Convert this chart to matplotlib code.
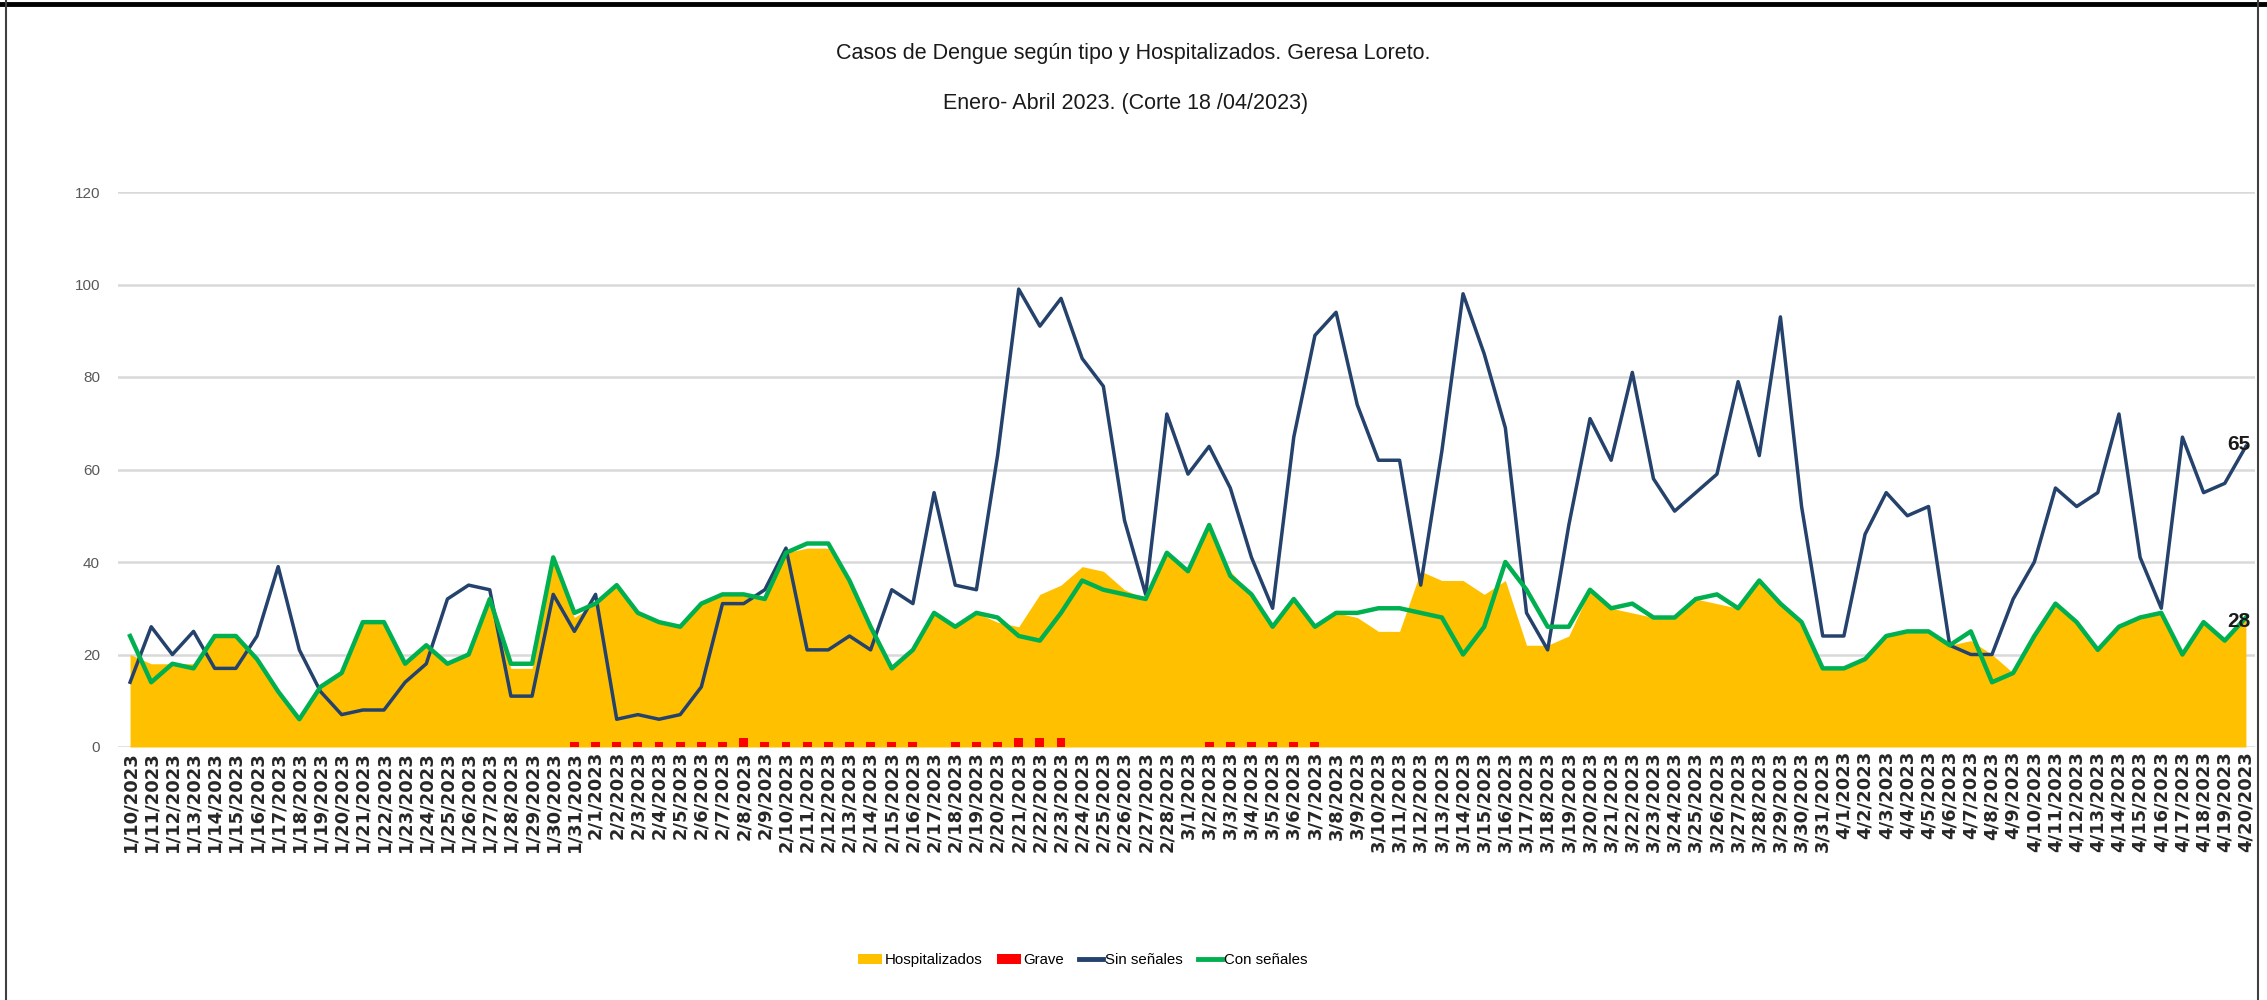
import matplotlib
matplotlib.use("Agg")
import matplotlib.pyplot as plt
from matplotlib.lines import Line2D
from matplotlib.patches import Patch
import numpy as np
import pandas as pd

# ---------------- data ----------------
fechas = pd.date_range("2023-01-10", "2023-04-20", freq="D")
etiquetas = [f"{d.month}/{d.day}/{d.year}" for d in fechas]

sin_senales = [14, 26, 20, 25, 17, 17, 24, 39, 21, 12,
               7, 8, 8, 14, 18, 32, 35, 34, 11, 11,
               33, 25, 33, 6, 7, 6, 7, 13, 31, 31,
               34, 43, 21, 21, 24, 21, 34, 31, 55, 35,
               34, 63, 99, 91, 97, 84, 78, 49, 33, 72,
               59, 65, 56, 41, 30, 67, 89, 94, 74, 62,
               62, 35, 64, 98, 85, 69, 29, 21, 48, 71,
               62, 81, 58, 51, 55, 59, 79, 63, 93, 52,
               24, 24, 46, 55, 50, 52, 22, 20, 20, 32,
               40, 56, 52, 55, 72, 41, 30, 67, 55, 57, 65]

con_senales = [24, 14, 18, 17, 24, 24, 19, 12, 6, 13,
               16, 27, 27, 18, 22, 18, 20, 32, 18, 18,
               41, 29, 31, 35, 29, 27, 26, 31, 33, 33,
               32, 42, 44, 44, 36, 26, 17, 21, 29, 26,
               29, 28, 24, 23, 29, 36, 34, 33, 32, 42,
               38, 48, 37, 33, 26, 32, 26, 29, 29, 30,
               30, 29, 28, 20, 26, 40, 34, 26, 26, 34,
               30, 31, 28, 28, 32, 33, 30, 36, 31, 27,
               17, 17, 19, 24, 25, 25, 22, 25, 14, 16,
               24, 31, 27, 21, 26, 28, 29, 20, 27, 23, 28]

hospitalizados = [20, 18, 18, 18, 24, 24, 19, 12, 6, 13,
                  16, 27, 27, 18, 22, 18, 20, 32, 17, 17,
                  40, 28, 31, 35, 29, 27, 26, 31, 33, 33,
                  32, 42, 43, 43, 36, 26, 17, 21, 29, 26,
                  29, 27, 26, 33, 35, 39, 38, 34, 32, 42,
                  38, 48, 38, 33, 26, 32, 26, 29, 28, 25,
                  25, 38, 36, 36, 33, 36, 22, 22, 24, 34,
                  30, 29, 28, 28, 32, 31, 30, 36, 31, 27,
                  17, 17, 19, 24, 25, 25, 22, 23, 20, 16,
                  24, 31, 27, 21, 26, 28, 29, 20, 27, 23, 28]

grave = [0, 0, 0, 0, 0, 0, 0, 0, 0, 0,
         0, 0, 0, 0, 0, 0, 0, 0, 0, 0,
         0, 1, 1, 1, 1, 1, 1, 1, 1, 2,
         1, 1, 1, 1, 1, 1, 1, 1, 0, 1,
         1, 1, 2, 2, 2, 0, 0, 0, 0, 0,
         0, 1, 1, 1, 1, 1, 1, 0, 0, 0,
         0, 0, 0, 0, 0, 0, 0, 0, 0, 0,
         0, 0, 0, 0, 0, 0, 0, 0, 0, 0,
         0, 0, 0, 0, 0, 0, 0, 0, 0, 0,
         0, 0, 0, 0, 0, 0, 0, 0, 0, 0, 0]

yticks = [0, 20, 40, 60, 80, 100, 120]

titulo1 = "Casos de Dengue según tipo y Hospitalizados. Geresa Loreto."
titulo2 = "Enero- Abril 2023. (Corte 18 /04/2023)"

# ---------------- style ----------------
C_HOSP = "#FFC000"
C_GRAVE = "#FF0000"
C_SIN = "#24426C"
C_CON = "#00B050"
NARROW = ["Liberation Sans", "DejaVu Sans"]

W, H = 2267, 1000
fig = plt.figure(figsize=(W / 100, H / 100), dpi=100)
ax = fig.add_axes([118 / W, 1 - 747 / H, (2255 - 118) / W, (747 - 192) / H])

x = np.arange(len(etiquetas))

ax.fill_between(x, 0, hospitalizados, color=C_HOSP, linewidth=0, zorder=2,
                label="Hospitalizados")
ax.bar(x, grave, width=0.42, color=C_GRAVE, zorder=3, label="Grave")
ax.plot(x, sin_senales, color=C_SIN, linewidth=2.5, zorder=4,
        solid_joinstyle="round", label="Sin señales")
ax.plot(x, con_senales, color=C_CON, linewidth=3.2, zorder=5,
        solid_joinstyle="round", label="Con señales")

ax.set_xlim(-0.57, len(x) - 1 + 0.43)
ax.set_ylim(0, 120)
ax.set_yticks(yticks)
ax.set_yticklabels([str(v) for v in yticks], fontsize=11, color="#595959",
                   family=NARROW)
ax.set_xticks(x)
ax.set_xticklabels(etiquetas, rotation=90, fontsize=13, fontweight="bold",
                   color="#262626", family="DejaVu Sans")
ax.tick_params(axis="both", length=0)
ax.tick_params(axis="x", pad=3)
ax.tick_params(axis="y", pad=13)
ax.grid(axis="y", color="#D9D9D9", linewidth=1.8, zorder=0)
ax.set_axisbelow(True)
for s in ax.spines.values():
    s.set_visible(False)

# data labels at the last point
ax.annotate(str(sin_senales[-1]), xy=(x[-1], sin_senales[-1]),
            xytext=(-5, 1), textcoords="offset points", ha="center",
            va="center", fontsize=15, fontweight="bold", color="#1a1a1a",
            family=NARROW, zorder=6)
ax.annotate(str(con_senales[-1]), xy=(x[-1], con_senales[-1]),
            xytext=(-5, -3), textcoords="offset points", ha="center",
            va="center", fontsize=15, fontweight="bold", color="#1a1a1a",
            family=NARROW, zorder=6)

# titles
fig.text(1133 / W, 1 - 53 / H, titulo1, ha="center", va="center",
         fontsize=15.5, color="#1a1a1a", family=NARROW)
fig.text(1126 / W, 1 - 104 / H, titulo2, ha="center", va="center",
         fontsize=15.5, color="#1a1a1a", family=NARROW)

# legend
handles = [Patch(facecolor=C_HOSP, edgecolor="none"),
           Patch(facecolor=C_GRAVE, edgecolor="none"),
           Line2D([0], [0], color=C_SIN, linewidth=3.5),
           Line2D([0], [0], color=C_CON, linewidth=3.5)]
labels = ["Hospitalizados", "Grave", "Sin señales", "Con señales"]
fig.legend(handles, labels, loc="center", bbox_to_anchor=(1083 / W, 1 - 960 / H),
           ncol=4, frameon=False, prop={"family": NARROW, "size": 10.8},
           handlelength=1.6, handletextpad=0.15, columnspacing=1.0)

# outer frame
fig.add_artist(Line2D([0, 1], [1 - 4 / H, 1 - 4 / H], transform=fig.transFigure,
                      color="black", linewidth=3.5))
fig.add_artist(Line2D([6 / W, 6 / W], [0, 1], transform=fig.transFigure,
                      color="#404040", linewidth=1.5))
fig.add_artist(Line2D([2258 / W, 2258 / W], [0, 1], transform=fig.transFigure,
                      color="#404040", linewidth=1.5))

fig.savefig("out.png", dpi=100, facecolor="white")
